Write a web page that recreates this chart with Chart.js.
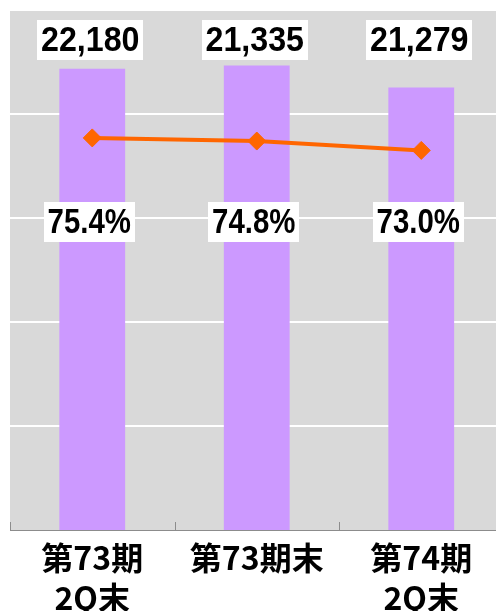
<!DOCTYPE html>
<html><head><meta charset="utf-8">
<script src="https://cdn.jsdelivr.net/npm/chart.js@4"></script>
<style>html,body{margin:0;padding:0;background:#fff;overflow:hidden;} canvas{display:block;}</style>
</head><body><canvas id="c" width="496" height="611" style="width:496px;height:611px"></canvas>
<script>
const categories = [["第73期","2Q末"],["第73期末"],["第74期","2Q末"]];
const barValues = [22180, 22335, 21279];
const barLabels = ["22,180","21,335","21,279"];
const ratioValues = [75.4, 74.8, 73.0];
const ratioLabels = ["75.4%","74.8%","73.0%"];

function drawBoxText(ctx, text, cx, cy, sx){
  ctx.save();
  ctx.font = 'bold 35px "Liberation Sans", Arial, sans-serif';
  const w = ctx.measureText(text).width * sx;
  ctx.fillStyle = '#fff';
  ctx.fillRect(Math.round(cx - w/2 - 4), Math.round(cy - 20), Math.round(w + 8), 40);
  ctx.translate(cx, cy + 1);
  ctx.scale(sx, 1);
  ctx.fillStyle = '#000';
  ctx.textAlign = 'center';
  ctx.textBaseline = 'middle';
  ctx.fillText(text, 0, 0);
  ctx.restore();
}

const bgPlugin = {
  id: 'bg',
  afterLayout(chart){
    // the plot area runs slightly past the right edge of the picture
    const a = chart.chartArea, x = chart.scales.x;
    const right = chart.width + 7.5;
    a.right = right; a.width = right - a.left;
    x.right = right; x.width = right - x.left;
    x.configure();
  },
  beforeDatasetsDraw(chart){
    const {ctx, chartArea:a, scales} = chart;
    ctx.save();
    ctx.fillStyle = '#d9d9d9';
    ctx.fillRect(a.left, a.top, a.right - a.left, a.bottom - a.top);
    ctx.strokeStyle = '#ffffff';
    ctx.lineWidth = 2;
    scales.y.ticks.forEach(t => {
      const y = Math.round(scales.y.getPixelForValue(t.value));
      if (y >= a.bottom - 1) return;
      ctx.beginPath(); ctx.moveTo(a.left, y); ctx.lineTo(a.right, y); ctx.stroke();
    });
    ctx.restore();
  },
  afterDatasetsDraw(chart){
    const {ctx, chartArea:a, scales} = chart;
    ctx.save();
    ctx.strokeStyle = '#8c8c8c';
    ctx.lineWidth = 1;
    ctx.beginPath(); ctx.moveTo(a.left, a.bottom + 0.5); ctx.lineTo(a.right, a.bottom + 0.5); ctx.stroke();
    const cw = (a.right - a.left) / categories.length;
    for (let i = 0; i <= categories.length; i++) {
      const x = Math.round(scales.x.getPixelForValue(0) - cw/2 + i*cw) + 0.5;
      ctx.beginPath(); ctx.moveTo(x, a.bottom); ctx.lineTo(x, a.bottom - 8); ctx.stroke();
    }
    ctx.restore();
    barLabels.forEach((t, i) => {
      drawBoxText(ctx, t, scales.x.getPixelForValue(i) - 2, a.top + 30, 0.92);
    });
    ratioLabels.forEach((t, i) => {
      drawBoxText(ctx, t, scales.x.getPixelForValue(i) - 3, a.top + 212, 0.84);
    });
  }
};

new Chart(document.getElementById('c'), {
  type: 'bar',
  data: {
    labels: categories,
    datasets: [
      {
        type: 'line', data: ratioValues, yAxisID: 'y2', order: 0,
        borderColor: '#ff6600', borderWidth: 4, backgroundColor: '#ff6600',
        pointStyle: 'rectRot', pointRadius: 9, pointBorderWidth: 1,
        pointBackgroundColor: '#ff6600', pointBorderColor: '#ff6600', tension: 0
      },
      {
        type: 'bar', data: barValues, yAxisID: 'y', order: 1,
        backgroundColor: '#cc99ff', barPercentage: 0.4, categoryPercentage: 1
      }
    ]
  },
  options: {
    responsive: false, animation: false, devicePixelRatio: 1,
    layout: { padding: { top: 10, left: 10, right: 0, bottom: 0 } },
    plugins: { legend: { display: false }, tooltip: { enabled: false } },
    scales: {
      x: {
        grid: { display: false, drawTicks: false }, border: { display: false },
        ticks: { color: '#000', padding: 8, maxRotation: 0, autoSkip: false,
          font: { family: '"Noto Sans CJK JP"', size: 32, weight: 'bold', lineHeight: 1.25 } },
        afterFit(s){ s.height = 81; }
      },
      y: { display: false, min: 0, max: 25000, ticks: { stepSize: 5000 } },
      y2: { display: false, min: 0, max: 100 }
    }
  },
  plugins: [bgPlugin]
});
</script></body></html>
